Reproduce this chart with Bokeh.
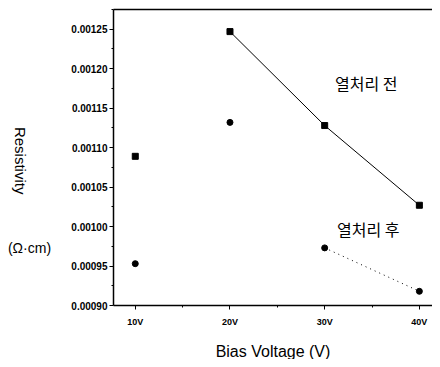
import math
from bokeh.plotting import figure
from bokeh.models import FixedTicker, Label, LinearAxis, ColumnDataSource
from bokeh.embed import file_html
from bokeh.resources import INLINE

# data
voltages = [10, 20, 30, 40]
x_tick_labels = ["10V", "20V", "30V", "40V"]
before = [0.001089, 0.001247, 0.001128, 0.001027]   # 열처리 전 (squares)
after = [0.000953, 0.001132, 0.000973, 0.000918]    # 열처리 후 (circles)
y_ticks = [0.00090, 0.00095, 0.00100, 0.00105, 0.00110, 0.00115, 0.00120, 0.00125]
y_tick_labels = ["0.00090", "0.00095", "0.00100", "0.00105", "0.00110", "0.00115", "0.00120", "0.00125"]

# visible plot box: x from X0 to XR, y from Y0 to Y1; the frame is larger so the
# outside texts can be drawn inside it
XL, X0, XR = -4.232, 7.7, 41.386
YB, Y0, Y1, YT = 0.0008316, 0.00090, 0.001275, 0.0012864

p = figure(width=432, height=359, output_backend="svg", toolbar_location=None,
           x_range=(XL, XR), y_range=(YB, YT), x_axis_location=None, y_axis_location=None,
           min_border_left=0, min_border_right=0, min_border_top=0, min_border_bottom=0)
p.grid.visible = False
p.outline_line_color = None
p.background_fill_color = "white"
p.border_fill_color = "white"

xax = LinearAxis(fixed_location=Y0, bounds=(X0, XR))
p.add_layout(xax, "below")
yax = LinearAxis(fixed_location=X0, bounds=(Y0, Y1))
p.add_layout(yax, "left")
# top edge of the box
p.segment(x0=[X0], y0=[Y1], x1=[XR], y1=[Y1], line_color="black", line_width=1.5)

xax.ticker = FixedTicker(ticks=voltages, minor_ticks=[15, 25, 35])
xax.major_label_overrides = {v: l for v, l in zip(voltages, x_tick_labels)}
yax.ticker = FixedTicker(ticks=y_ticks, minor_ticks=[t + 0.000025 for t in y_ticks])
yax.major_label_overrides = {t: l for t, l in zip(y_ticks, y_tick_labels)}

for ax in (xax, yax):
    ax.axis_line_color = "black"
    ax.axis_line_width = 1.5
    ax.major_tick_in = 0
    ax.major_tick_out = 4
    ax.minor_tick_in = 0
    ax.minor_tick_out = 2
    ax.major_tick_line_color = "black"
    ax.minor_tick_line_color = "black"
    ax.major_label_text_font = "Liberation Sans"
    ax.major_label_text_font_style = "bold"
    ax.major_label_text_color = "black"

yax.major_label_text_font_size = "10px"
yax.major_label_standoff = 2
xax.major_label_text_font_size = "9px"
xax.major_label_standoff = 7
xax.axis_label = "Bias Voltage (V)"
xax.axis_label_text_font = "Liberation Sans"
xax.axis_label_text_font_style = "normal"
xax.axis_label_text_font_size = "16px"
xax.axis_label_text_color = "black"
xax.axis_label_standoff = 13

# y label parts
p.add_layout(Label(x=X0, y=0.0010835, x_offset=-93, text="Resistivity", angle=-math.pi / 2,
                   text_align="center", text_baseline="middle",
                   text_font="Liberation Sans", text_font_size="15px", text_color="black"))
p.add_layout(Label(x=X0, y=0.0009734, x_offset=-84, text="(Ω·cm)",
                   text_align="center", text_baseline="middle",
                   text_font="Liberation Sans", text_font_size="14px", text_color="black"))

# series
src_b = ColumnDataSource(dict(x=voltages, y=before))
src_a = ColumnDataSource(dict(x=voltages, y=after))
p.line(voltages[1:], before[1:], line_color="black", line_width=1)
p.line(voltages[2:], after[2:], line_color="black", line_width=1, line_dash="1 4")
p.scatter("x", "y", source=src_b, marker="square", size=6, fill_color="black", line_color="black")
p.scatter("x", "y", source=src_a, marker="circle", size=6, fill_color="black", line_color="black")

# series labels
p.add_layout(Label(x=34.4, y=0.0011823, text="열처리 전", text_align="center", text_baseline="middle",
                   text_font="Noto Sans CJK KR", text_font_size="16px", text_color="black"))
p.add_layout(Label(x=34.6, y=0.0009975, text="열처리 후", text_align="center", text_baseline="middle",
                   text_font="Noto Sans CJK KR", text_font_size="16px", text_color="black"))

open("out.html", "w").write(file_html(p, INLINE))
